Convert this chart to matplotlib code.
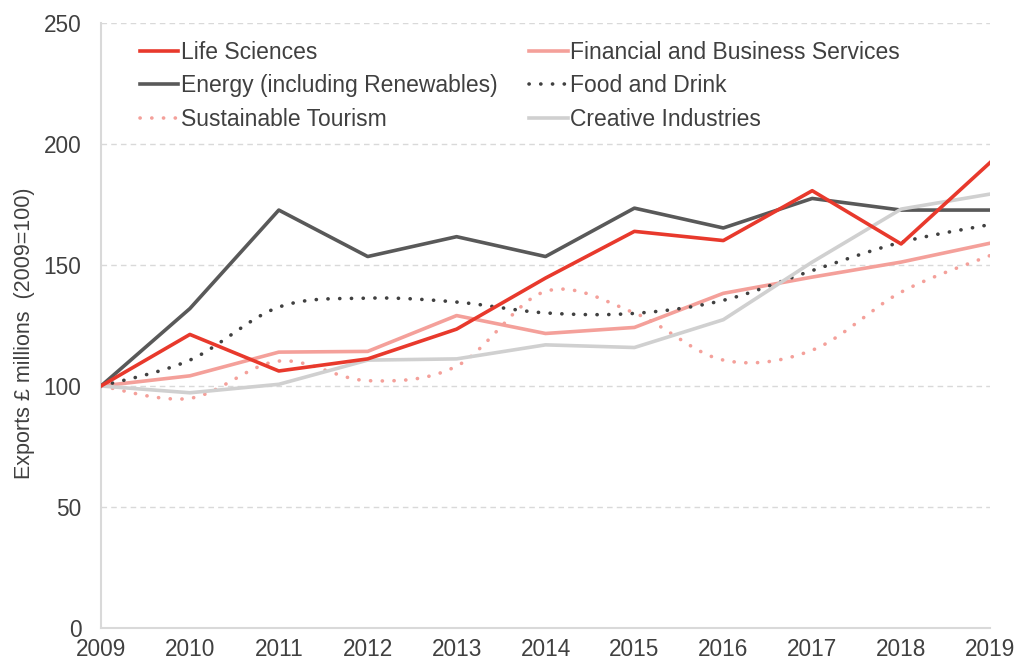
import numpy as np
import matplotlib
matplotlib.use("Agg")
import matplotlib.pyplot as plt
from matplotlib.lines import Line2D

plt.rcParams['font.family'] = ['Liberation Sans', 'DejaVu Sans']

years = [2009, 2010, 2011, 2012, 2013, 2014, 2015, 2016, 2017, 2018, 2019]
life_sciences = [100, 121.3, 106.2, 111.2, 123.5, 144.6, 163.9, 160.1, 180.7, 158.7, 192.3]
financial = [100, 104.2, 114.0, 114.3, 129.1, 121.7, 124.2, 138.3, 145.0, 151.2, 159.0]
energy = [100, 132.0, 172.7, 153.5, 161.7, 153.5, 173.5, 165.3, 177.5, 172.7, 172.7]
food_drink = [100, 110.7, 132.6, 136.3, 134.7, 130.2, 130.0, 135.4, 147.7, 159.4, 166.7]
tourism = [100, 94.9, 110.3, 102.2, 108.2, 139.1, 130.2, 110.7, 114.8, 138.8, 153.9]
creative = [100, 97.2, 100.7, 110.7, 111.2, 117.0, 115.9, 127.4, 151.2, 173.1, 179.3]
yticks = [0, 50, 100, 150, 200, 250]

TEXT = '#404040'
GRID = '#D9D9D9'
C_LIFE = '#E8392C'
C_FIN = '#F4A09A'
C_ENERGY = '#595959'
C_FOOD = '#404040'
C_TOUR = '#F4A09A'
C_CREAT = '#D0D0D0'


def smooth(x, y, n=30):
    """Excel-style smoothed line (Catmull-Rom via cubic Bezier)."""
    x = np.asarray(x, float)
    y = np.asarray(y, float)
    P = np.column_stack([x, y])
    out = []
    for i in range(len(P) - 1):
        p0 = P[i - 1] if i > 0 else P[i]
        p1 = P[i]
        p2 = P[i + 1]
        p3 = P[i + 2] if i + 2 < len(P) else P[i + 1]
        c1 = p1 + (p2 - p0) / 6.0
        c2 = p2 - (p3 - p1) / 6.0
        t = np.linspace(0, 1, n, endpoint=(i == len(P) - 2))[:, None]
        seg = ((1 - t) ** 3) * p1 + 3 * ((1 - t) ** 2) * t * c1 + 3 * (1 - t) * t ** 2 * c2 + t ** 3 * p2
        out.append(seg)
    out = np.vstack(out)
    return out[:, 0], out[:, 1]


fig = plt.figure(figsize=(10.19, 6.64), dpi=100)
ax = fig.add_axes([101 / 1019, 36 / 664, (990 - 101) / 1019, (628 - 23) / 664])

LW = 2.6
dot_style = (0, (0.05, 3.2))

ax.plot(years, financial, color=C_FIN, lw=LW, zorder=3)
sx, sy = smooth(years, food_drink)
ax.plot(sx, sy, color=C_FOOD, lw=LW, linestyle=dot_style, dash_capstyle='round', zorder=4)
sx, sy = smooth(years, tourism)
ax.plot(sx, sy, color=C_TOUR, lw=LW, linestyle=dot_style, dash_capstyle='round', zorder=4)
ax.plot(years, energy, color=C_ENERGY, lw=LW, zorder=5)
ax.plot(years, creative, color=C_CREAT, lw=LW, zorder=5.5)
ax.plot(years, life_sciences, color=C_LIFE, lw=LW, zorder=6)

ax.set_xlim(2009, 2019)
ax.set_ylim(0, 250)
ax.set_xticks(years)
ax.set_xticklabels([str(y) for y in years])
ax.set_yticks(yticks)

ax.grid(axis='y', color=GRID, linestyle=(0, (4, 3)), lw=1.0, zorder=0)
ax.set_axisbelow(True)
for s in ['top', 'right']:
    ax.spines[s].set_visible(False)
for s in ['left', 'bottom']:
    ax.spines[s].set_color(GRID)
    ax.spines[s].set_linewidth(1.5)
ax.tick_params(axis='both', length=0, labelsize=16.3, colors=TEXT)
ax.tick_params(axis='y', pad=14)
ax.tick_params(axis='x', pad=7)

ax.set_ylabel('Exports £ millions  (2009=100)', fontsize=15.5, color=TEXT)
ax.yaxis.set_label_coords(-0.074, 0.488)

handles = [
    Line2D([], [], color=C_LIFE, lw=LW),
    Line2D([], [], color=C_ENERGY, lw=LW),
    Line2D([], [], color=C_TOUR, lw=LW, linestyle=dot_style, dash_capstyle='round'),
    Line2D([], [], color=C_FIN, lw=LW),
    Line2D([], [], color=C_FOOD, lw=LW, linestyle=dot_style, dash_capstyle='round'),
    Line2D([], [], color=C_CREAT, lw=LW),
]
labels = ['Life Sciences', 'Energy (including Renewables)', 'Sustainable Tourism',
          'Financial and Business Services', 'Food and Drink', 'Creative Industries']
leg = ax.legend(handles, labels, ncol=2, loc='upper left', bbox_to_anchor=(0.033, 0.986),
                frameon=False, fontsize=16.5, handlelength=1.7, handletextpad=0.12,
                columnspacing=1.35, labelspacing=0.46, borderaxespad=0)
for t in leg.get_texts():
    t.set_color(TEXT)

fig.savefig('out.png', dpi=100)
